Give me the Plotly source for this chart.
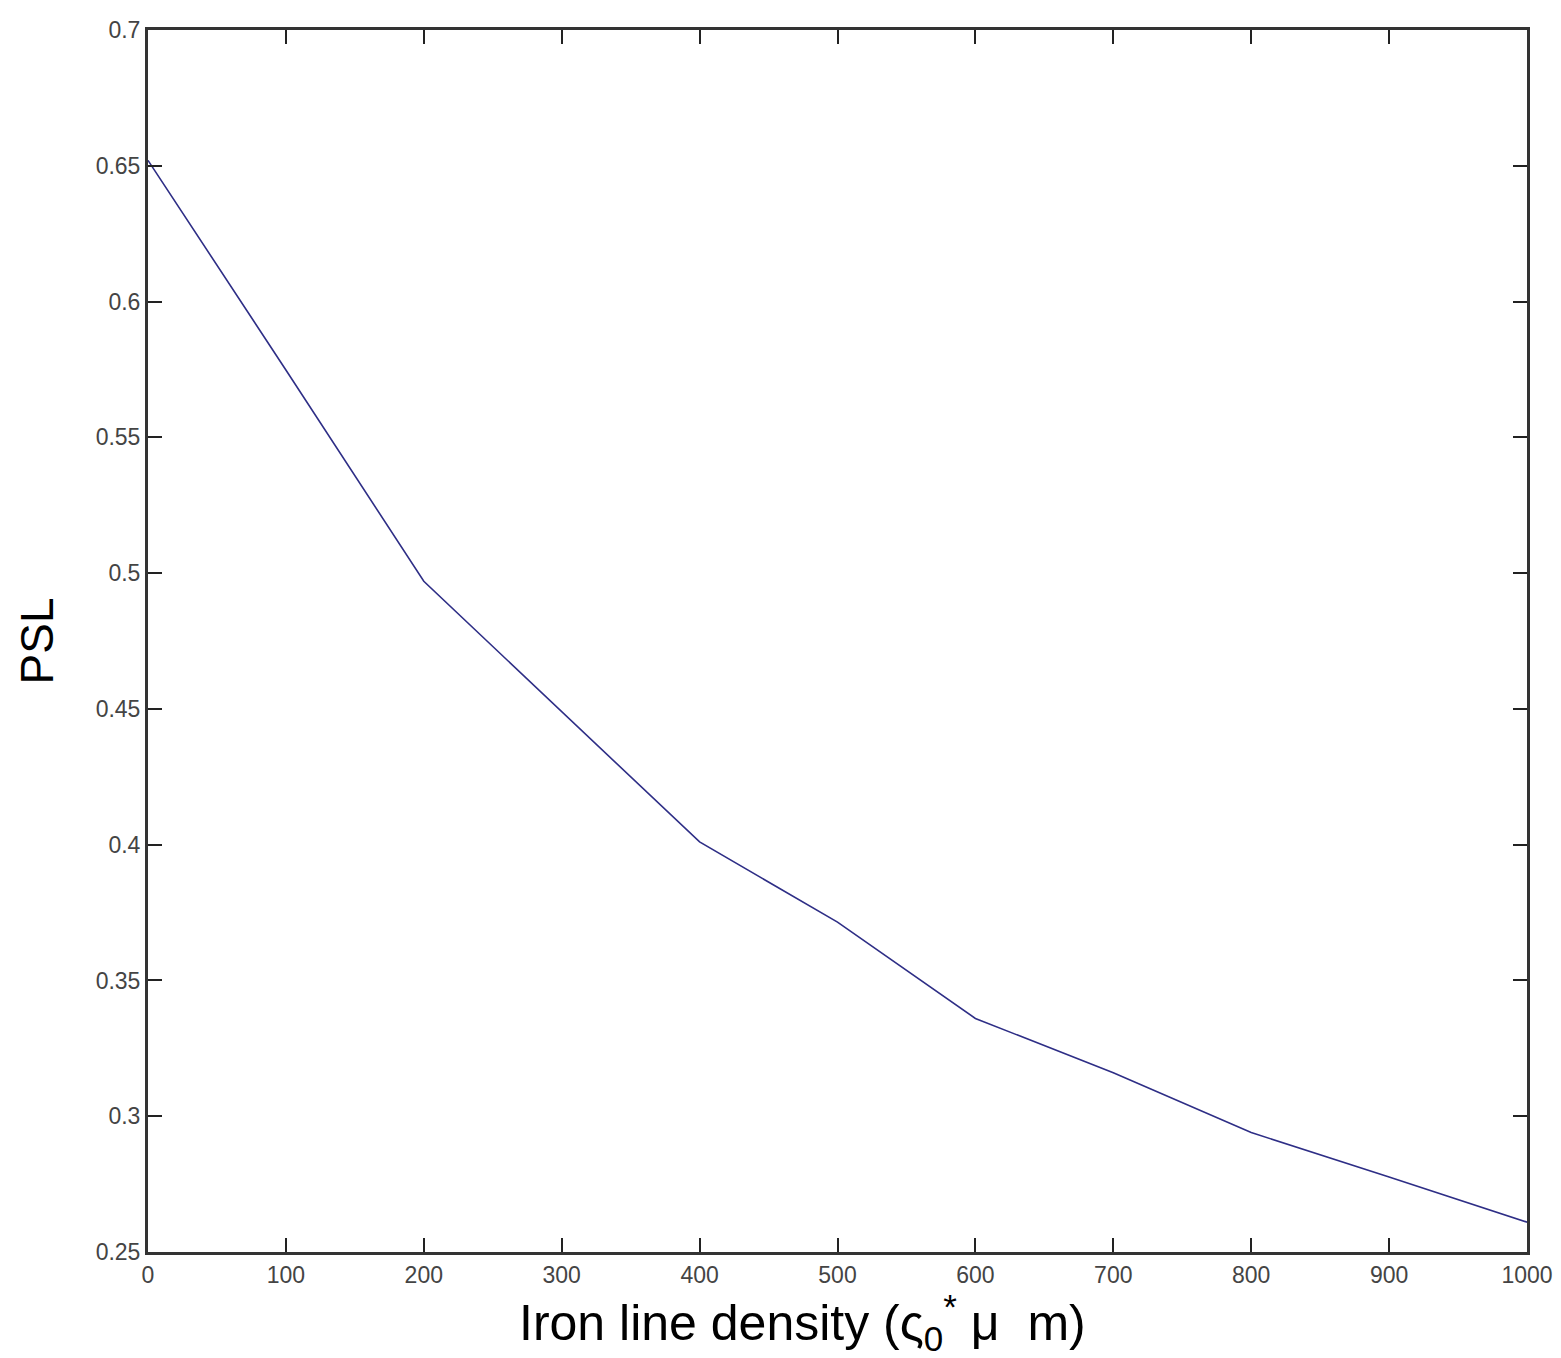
import plotly.graph_objects as go

density = [0, 100, 200, 300, 400, 500, 600, 700, 800, 900, 1000]
psl = [0.652, 0.5748, 0.497, 0.449, 0.401, 0.3715, 0.336, 0.316, 0.294, 0.2776, 0.261]

x_ticks = [0, 100, 200, 300, 400, 500, 600, 700, 800, 900, 1000]
x_labels = ["0", "100", "200", "300", "400", "500", "600", "700", "800", "900", "1000"]
y_ticks = [0.25, 0.3, 0.35, 0.4, 0.45, 0.5, 0.55, 0.6, 0.65, 0.7]
y_labels = ["0.25", "0.3", "0.35", "0.4", "0.45", "0.5", "0.55", "0.6", "0.65", "0.7"]

x_title = "Iron line density (ς<sub>0</sub><sup>*</sup> μ  m)"
y_title = "PSL"

fig = go.Figure()
fig.add_trace(go.Scatter(x=density, y=psl, mode="lines",
                         line=dict(color="#2e2e86", width=1.6), showlegend=False))

tickfont = dict(family="Liberation Sans", size=23, color="#444444")
fig.update_layout(
    width=1561, height=1358,
    margin=dict(l=148, r=34, t=30, b=106),
    paper_bgcolor="white", plot_bgcolor="white",
    xaxis=dict(range=[0, 1000], tickvals=x_ticks, ticktext=x_labels,
               ticks="inside", ticklen=14, tickwidth=2, tickcolor="#222",
               showline=True, linecolor="#333", linewidth=3, mirror="ticks",
               showgrid=False, zeroline=False, tickfont=tickfont, automargin=False),
    yaxis=dict(range=[0.25, 0.7], tickvals=y_ticks, ticktext=y_labels,
               ticks="inside", ticklen=14, tickwidth=2, tickcolor="#222",
               showline=True, linecolor="#333", linewidth=3, mirror="ticks",
               showgrid=False, zeroline=False, tickfont=tickfont, automargin=False,
               title=dict(text=y_title,
                          font=dict(family="Liberation Sans", size=46, color="black"),
                          standoff=28)),
)
fig.add_annotation(text=x_title, xref="paper", yref="paper",
                   x=(802 - 148) / (1527 - 148), y=0, yshift=-70,
                   xanchor="center", yanchor="middle", showarrow=False,
                   font=dict(family="Liberation Sans", size=50, color="black"))

fig.write_html("out.html")
